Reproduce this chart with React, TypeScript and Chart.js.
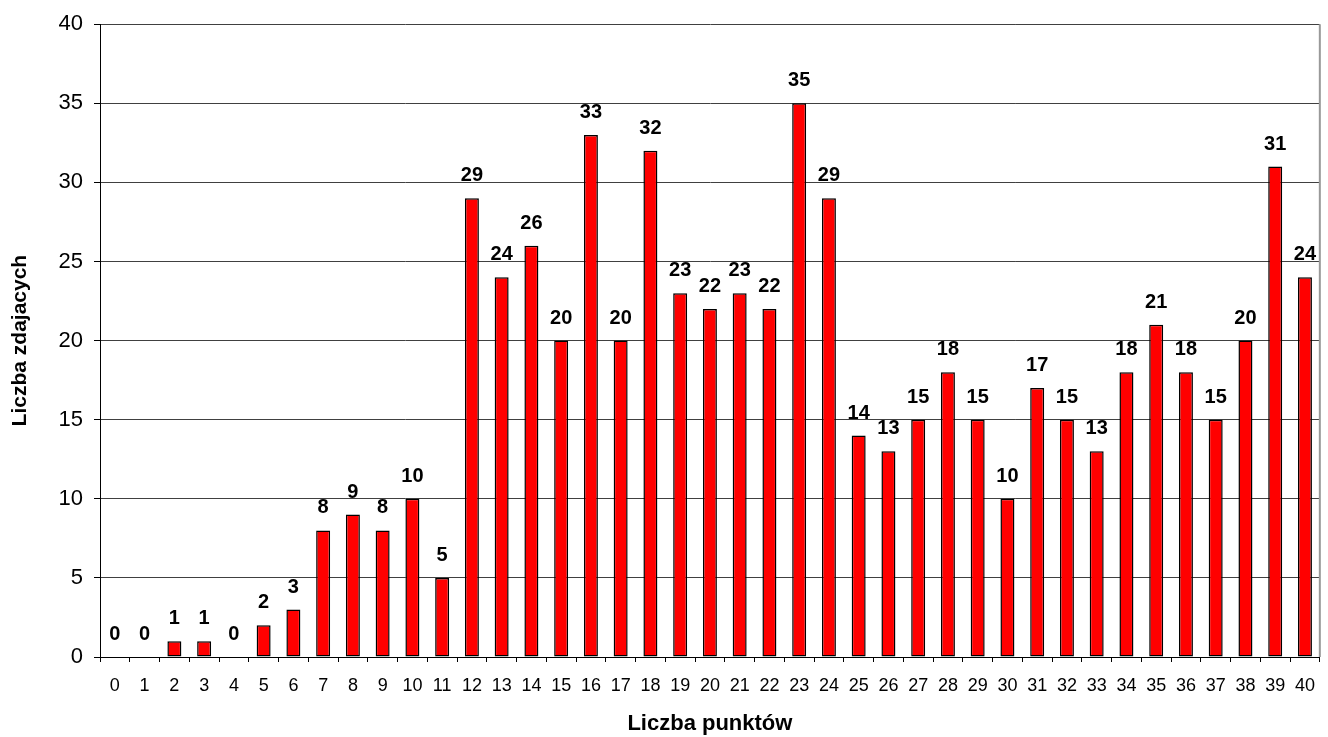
import React, { useEffect, useRef } from "react";
import { Chart, registerables } from "chart.js";

Chart.register(...registerables);

const categories: string[] = Array.from({ length: 41 }, (_, i) => String(i));
const values: number[] = [
  0, 0, 1, 1, 0, 2, 3, 8, 9, 8, 10, 5, 29, 24, 26, 20, 33, 20, 32, 23, 22, 23, 22, 35, 29,
  14, 13, 15, 18, 15, 10, 17, 15, 13, 18, 21, 18, 15, 20, 31, 24,
];
const yTitle = "Liczba zdajacych";
const xTitle = "Liczba punktów";

const FONT = "'Liberation Sans', Arial, sans-serif";

const labelPlugin = {
  id: "barLabels",
  afterDatasetsDraw(chart: any) {
    const ctx = chart.ctx;
    const meta = chart.getDatasetMeta(0);
    ctx.save();
    ctx.font = `bold 20px ${FONT}`;
    ctx.fillStyle = "#000";
    ctx.textAlign = "center";
    ctx.textBaseline = "alphabetic";
    meta.data.forEach((bar: any, i: number) => {
      ctx.fillText(String(values[i]), bar.x, bar.y - 17);
    });
    ctx.restore();
  },
};

const borderPlugin = {
  id: "rightBorder",
  afterDraw(chart: any) {
    const { ctx, chartArea } = chart;
    ctx.save();
    ctx.strokeStyle = "#999";
    ctx.lineWidth = 2;
    ctx.beginPath();
    ctx.moveTo(chartArea.right, chartArea.top);
    ctx.lineTo(chartArea.right, chartArea.bottom);
    ctx.stroke();
    ctx.restore();
  },
};

export default function App() {
  const ref = useRef<HTMLCanvasElement | null>(null);
  useEffect(() => {
    if (!ref.current) return;
    const chart = new Chart(ref.current, {
      type: "bar",
      data: {
        labels: categories,
        datasets: [
          {
            data: values,
            backgroundColor: "#FF0000",
            borderColor: "#000",
            borderWidth: 1.5,
            borderSkipped: false,
            barPercentage: 0.47,
            categoryPercentage: 1,
          },
        ],
      },
      options: {
        animation: false,
        responsive: false,
        layout: { padding: { top: 22, right: 3, bottom: 0, left: 0 } },
        plugins: {
          legend: { display: false },
          tooltip: { enabled: false },
        },
        scales: {
          x: {
            offset: true,
            grid: {
              offset: true,
              drawOnChartArea: false,
              drawTicks: true,
              tickLength: 5,
              tickColor: "#000",
            },
            border: { color: "#000", width: 1 },
            ticks: {
              color: "#000",
              font: { family: FONT, size: 18 },
              padding: 13,
              maxRotation: 0,
              autoSkip: false,
            },
            title: {
              display: true,
              text: xTitle,
              color: "#000",
              font: { family: FONT, size: 22, weight: "bold" },
              padding: { top: 0, bottom: 0 },
            },
            afterFit(scale: any) {
              scale.height = 80;
            },
          },
          y: {
            min: 0,
            max: 40,
            ticks: {
              stepSize: 5,
              color: "#000",
              font: { family: FONT, size: 22 },
              padding: 11,
            },
            grid: {
              color: "#404040",
              lineWidth: 1,
              tickLength: 6,
              tickColor: "#000",
            },
            border: { color: "#000", width: 1 },
            title: {
              display: true,
              text: yTitle,
              color: "#000",
              font: { family: FONT, size: 21, weight: "bold" },
              padding: { top: 8, bottom: 0 },
            },
            afterFit(scale: any) {
              scale.width = 100;
            },
          },
        },
      },
      plugins: [labelPlugin, borderPlugin],
    });
    return () => chart.destroy();
  }, []);
  return (
    <div style={{ position: "absolute", left: 0, top: 0, width: 1328, height: 737, background: "#fff" }}>
      <canvas ref={ref} width={1328} height={737} />
    </div>
  );
}
